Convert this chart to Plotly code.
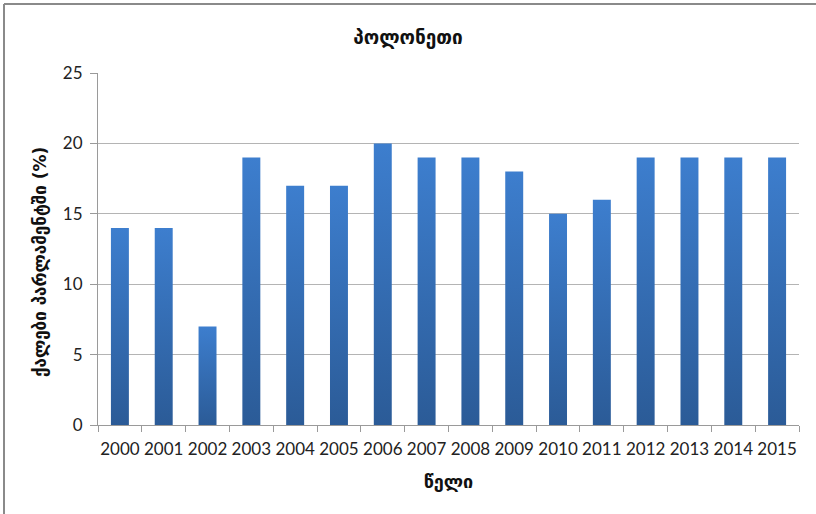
import plotly.graph_objects as go

years = ["2000", "2001", "2002", "2003", "2004", "2005", "2006", "2007",
         "2008", "2009", "2010", "2011", "2012", "2013", "2014", "2015"]
values = [14, 14, 7, 19, 17, 17, 20, 19, 19, 18, 15, 16, 19, 19, 19, 19]
y_ticks = [0, 5, 10, 15, 20, 25]

title_text = "პოლონეთი"
x_title = "წელი"
y_title = "ქალები პარლამენტში (%)"

TOP_COLOR = "#3D7ECE"
BOTTOM_COLOR = "#2B5B97"
HALF_W = 0.205

fig = go.Figure()
for i, v in enumerate(values):
    fig.add_trace(go.Scatter(
        x=[i - HALF_W, i + HALF_W, i + HALF_W, i - HALF_W, i - HALF_W],
        y=[0, 0, v, v, 0],
        mode="lines", line=dict(width=0),
        fill="toself",
        fillgradient=dict(type="vertical",
                          colorscale=[[0, BOTTOM_COLOR], [1, TOP_COLOR]],
                          start=0, stop=v),
        hoverinfo="skip", showlegend=False,
    ))

font_num = "Lato, 'DejaVu Sans', sans-serif"
font_geo = "'DejaVu Sans', sans-serif"

fig.update_layout(
    width=816, height=514,
    margin=dict(l=98, r=17, t=73, b=89),
    paper_bgcolor="white", plot_bgcolor="white",
    title=dict(text="<b>" + title_text + "</b>", x=0.5, xref="container", xanchor="center",
               y=1 - 37 / 514, yref="container", yanchor="middle",
               font=dict(family=font_geo, size=19, color="#111")),
    xaxis=dict(range=[-0.5, len(values) - 0.5], tickvals=list(range(len(years))),
               ticktext=years, ticks="", showgrid=False, zeroline=False,
               showline=True, linecolor="#9a9a9a", linewidth=1,
               ticklabelstandoff=9,
               tickfont=dict(family=font_num, size=17, color="#222"),
               minor=dict(tickvals=[i - 0.5 for i in range(len(years) + 1)],
                          ticks="outside", ticklen=6, tickcolor="#9a9a9a", showgrid=False),
               title=dict(text="<b>" + x_title + "</b>", standoff=16,
                          font=dict(family=font_geo, size=18, color="#111"))),
    yaxis=dict(range=[0, 25], tickvals=y_ticks, ticks="outside", ticklen=7,
               tickcolor="#9a9a9a", showgrid=True, gridcolor="#b4b4b4", gridwidth=1,
               zeroline=False, showline=True, linecolor="#9a9a9a", linewidth=1,
               ticklabelstandoff=4,
               tickfont=dict(family=font_num, size=17, color="#222")),
    annotations=[
        dict(text="<b>" + y_title + "</b>", textangle=-90, showarrow=False,
             xref="paper", yref="paper", x=(40 - 98) / 701, y=(425 - 262) / 352,
             xanchor="center", yanchor="middle",
             font=dict(family=font_geo, size=17, color="#111")),
    ],
    shapes=[
        dict(type="line", xref="paper", yref="paper",
             x0=-94 / 701, x1=-94 / 701, y0=421 / 352, y1=-0.5,
             line=dict(color="#8a8a8a", width=2)),
        dict(type="line", xref="paper", yref="paper",
             x0=-94 / 701, x1=1.2, y0=421 / 352, y1=421 / 352,
             line=dict(color="#8a8a8a", width=2)),
    ],
)

fig.write_html("out.html")
